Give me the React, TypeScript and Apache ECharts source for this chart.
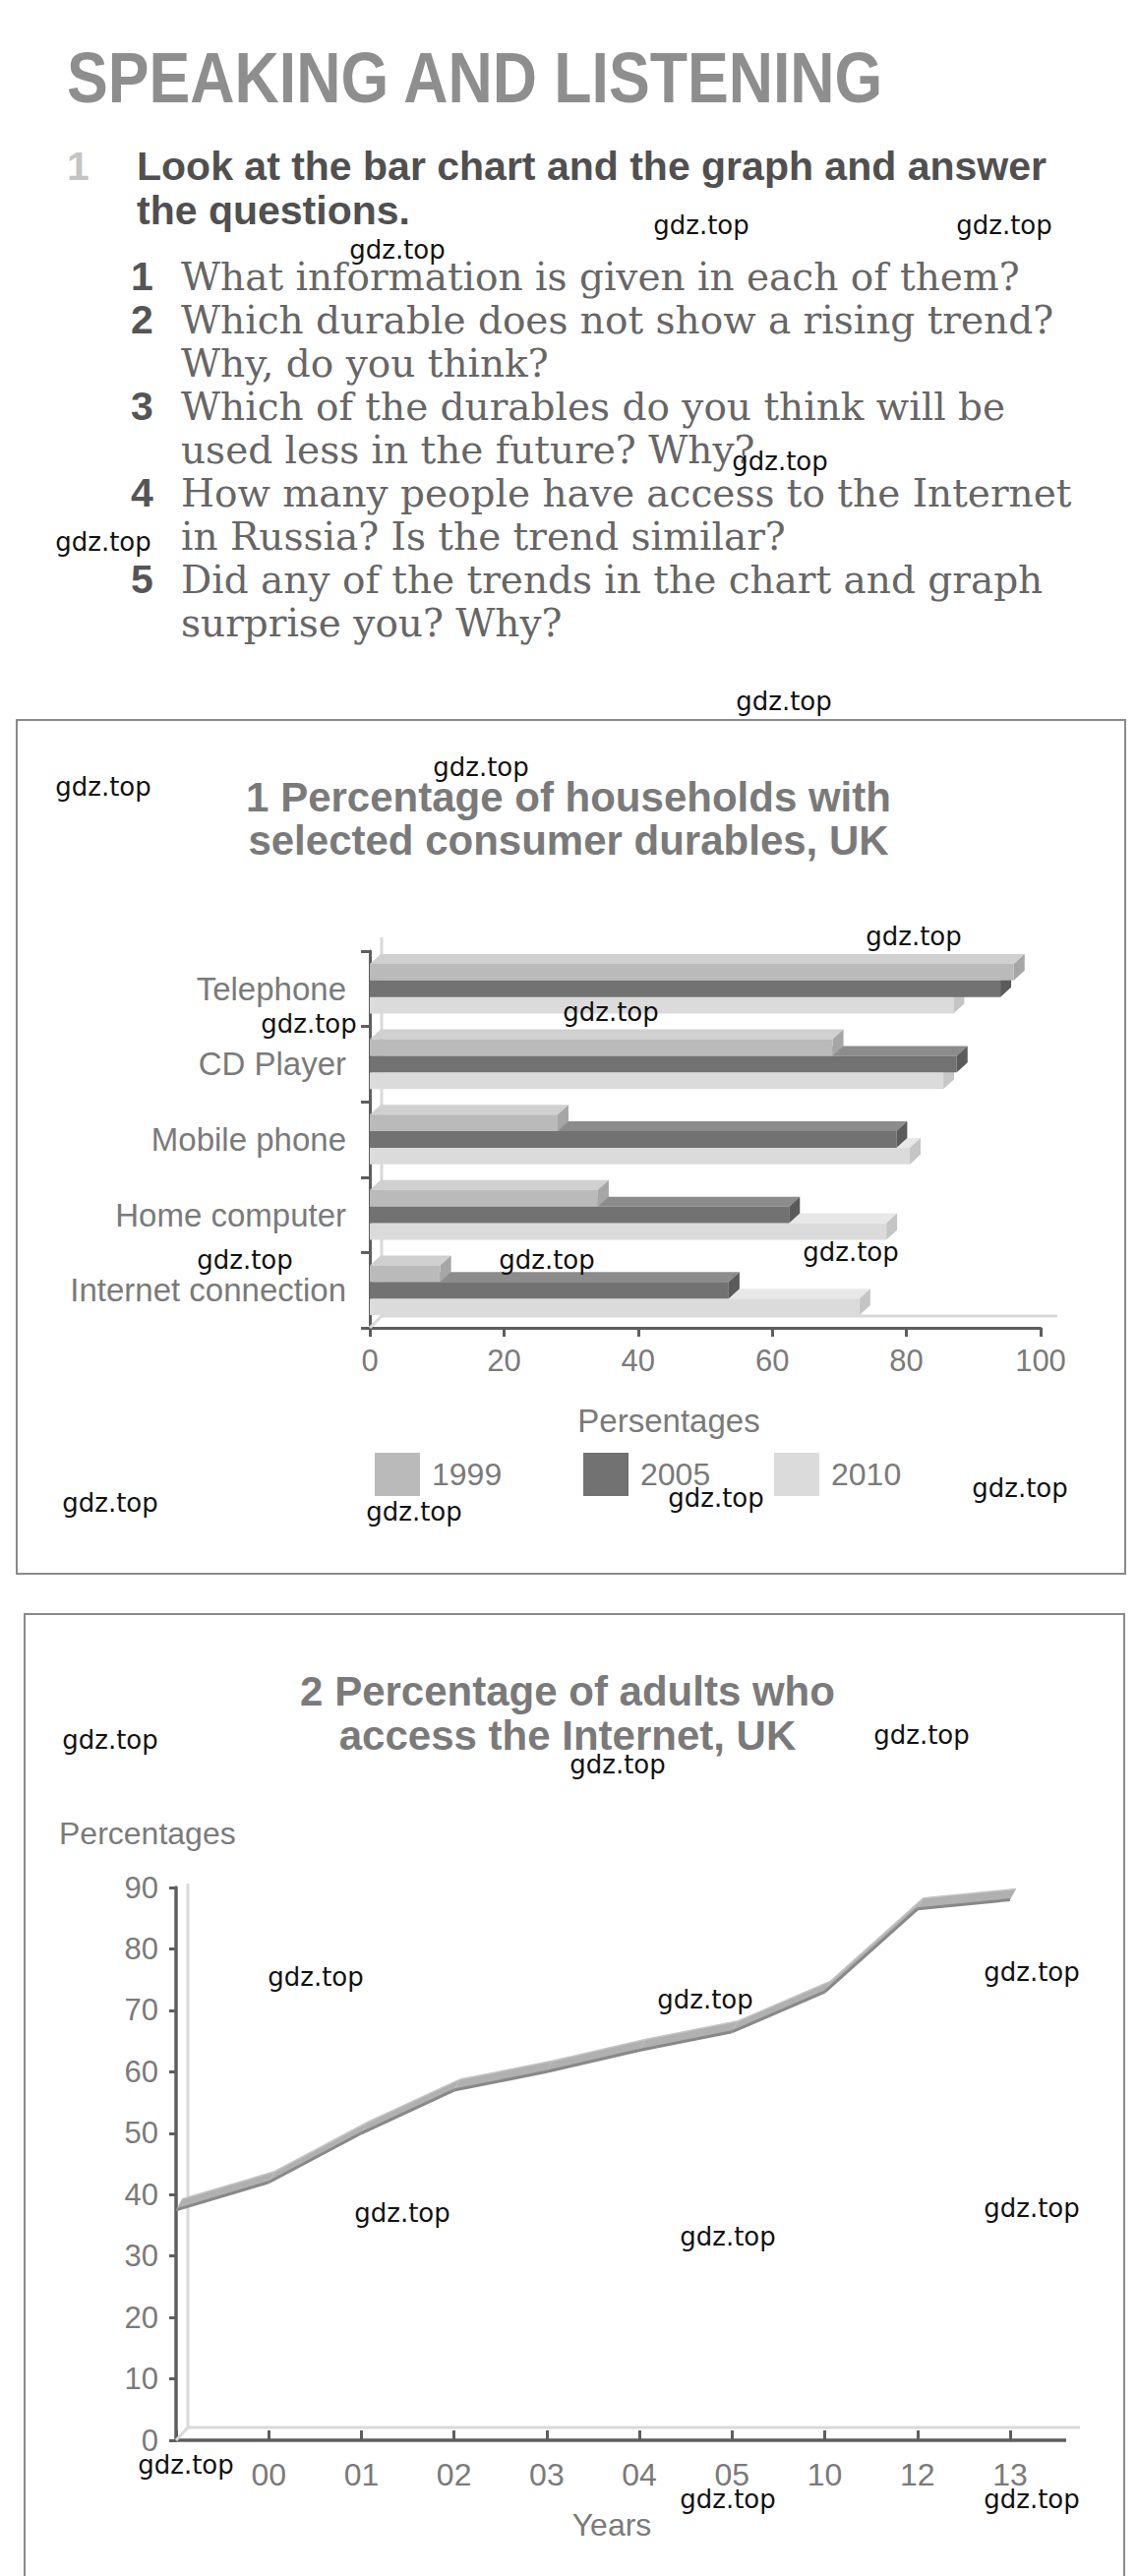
import React, { useEffect, useRef } from 'react';
import * as echarts from 'echarts';

// ---------- data ----------
const pageHeading = 'SPEAKING AND LISTENING';
const exerciseNumber = '1';
const instructionLines = ['Look at the bar chart and the graph and answer', 'the questions.'];
const questionNumbers = ['1', '2', '3', '4', '5'];
const questionLines = [
  ['What information is given in each of them?'],
  ['Which durable does not show a rising trend?', 'Why, do you think?'],
  ['Which of the durables do you think will be', 'used less in the future? Why?'],
  ['How many people have access to the Internet', 'in Russia? Is the trend similar?'],
  ['Did any of the trends in the chart and graph', 'surprise you? Why?'],
];

const barTitle = ['1 Percentage of households with', 'selected consumer durables, UK'];
const durables = ['Telephone', 'CD Player', 'Mobile phone', 'Home computer', 'Internet connection'];
const yearNames = ['1999', '2005', '2010'];
const v1999 = [96, 69, 28, 34, 10.5];
const v2005 = [94, 87.5, 78.5, 62.5, 53.5];
const v2010 = [87, 85.5, 80.5, 77, 73];
const barAxisName = 'Persentages';

const lineTitle = ['2 Percentage of adults who', 'access the Internet, UK'];
const internetYears = ['', '00', '01', '02', '03', '04', '05', '10', '12', '13'];
const internetValues = [37.5, 42, 50, 57, 60, 63.5, 66.5, 73, 86.5, 88];
const lineYName = 'Percentages';
const lineXName = 'Years';

const watermark = 'gdz.top';
const watermarkSpots = [
  [713, 229], [1021, 229], [404, 254], [793, 469], [105, 551], [797, 713],
  [105, 800], [489, 780], [929, 952], [314, 1041], [621, 1029], [249, 1281],
  [556, 1281], [865, 1273], [112, 1528], [421, 1537], [728, 1523], [1037, 1513],
  [112, 1769], [937, 1764], [628, 1794], [321, 2010], [717, 2033], [1049, 2005],
  [409, 2250], [740, 2274], [1049, 2245], [189, 2506], [740, 2541], [1049, 2541],
];

// ---------- styles ----------
const SANS = '"Liberation Sans", Arial, sans-serif';
const SERIF = '"DejaVu Serif", serif';
const LABEL = '#7a7a7a';
const AXIS = '#5e5e5e';
const WALL = '#d9d9d9';

const faces = [
  { front: '#bababa', top: '#d0d0d0', side: '#a6a6a6' },
  { front: '#727272', top: '#8c8c8c', side: '#5b5b5b' },
  { front: '#dbdbdb', top: '#e8e8e8', side: '#c5c5c5' },
];

function bar3D(slot: number) {
  const f = faces[slot];
  return (params: any, api: any) => {
    const val = api.value(0);
    const idx = api.value(1);
    const s = api.coord([0, idx]);
    const e = api.coord([val, idx]);
    const band = api.size([0, 1])[1];
    const h = band * 0.22;
    const top = s[1] - 1.5 * h + slot * h;
    const x0 = s[0];
    const x1 = e[0];
    const dx = 11;
    const dy = 10;
    return {
      type: 'group',
      children: [
        { type: 'polygon', shape: { points: [[x0, top], [x1, top], [x1 + dx, top - dy], [x0 + dx, top - dy]] }, style: { fill: f.top } },
        { type: 'polygon', shape: { points: [[x1, top], [x1 + dx, top - dy], [x1 + dx, top + h - dy], [x1, top + h]] }, style: { fill: f.side } },
        { type: 'rect', shape: { x: x0, y: top, width: x1 - x0, height: h }, style: { fill: f.front } },
      ],
    };
  };
}

function ribbon(params: any, api: any) {
  const i = params.dataIndex;
  if (i >= internetValues.length - 1) return { type: 'group', children: [] };
  const a = api.coord([api.value(0), api.value(1)]);
  const b = api.coord([i + 1, internetValues[i + 1]]);
  const dx = 6;
  const dy = 11;
  return {
    type: 'group',
    children: [
      { type: 'polygon', shape: { points: [a, b, [b[0] + dx, b[1] - dy], [a[0] + dx, a[1] - dy]] }, style: { fill: '#b0b0b0' } },
      { type: 'line', shape: { x1: a[0], y1: a[1], x2: b[0], y2: b[1] }, style: { stroke: '#888888', lineWidth: 3 } },
      { type: 'line', shape: { x1: a[0] + dx, y1: a[1] - dy, x2: b[0] + dx, y2: b[1] - dy }, style: { stroke: '#c4c4c4', lineWidth: 1.5 } },
    ],
  };
}

function txt(text: string, x: number, y: number, size: number, fill: string, opts: any = {}) {
  return {
    type: 'text',
    x,
    y,
    scaleX: opts.scaleX ?? 1,
    z: opts.z ?? 10,
    style: {
      text,
      fill,
      font: `${opts.weight ?? 'normal'} ${size}px ${opts.family ?? SANS}`,
      align: opts.align ?? 'left',
      verticalAlign: 'middle',
    },
  };
}

export default function App() {
  const ref = useRef<HTMLDivElement>(null);

  useEffect(() => {
    if (!ref.current) return;
    const chart = echarts.init(ref.current, null, { renderer: 'svg' });

    const elements: any[] = [];
    // page boxes
    elements.push({ type: 'rect', z: 1, shape: { x: 17, y: 732, width: 1127, height: 868 }, style: { fill: 'none', stroke: '#8a8a8a', lineWidth: 2 } });
    elements.push({ type: 'rect', z: 1, shape: { x: 25, y: 1641, width: 1118, height: 1100 }, style: { fill: 'none', stroke: '#8a8a8a', lineWidth: 2 } });

    // heading
    elements.push(txt(pageHeading, 68, 79, 72, '#8e8e8e', { weight: 'bold', scaleX: 0.87 }));
    elements.push(txt(exerciseNumber, 68, 169, 41, '#c4c4c4', { weight: 'bold' }));
    instructionLines.forEach((l, i) => elements.push(txt(l, 139, 169 + i * 44.5, 41, '#505050', { weight: 'bold' })));
    let line = 0;
    questionLines.forEach((ls, qi) => {
      ls.forEach((l, li) => {
        const y = 281 + line * 44;
        if (li === 0) elements.push(txt(questionNumbers[qi], 133, y, 41, '#555555', { weight: 'bold' }));
        elements.push(txt(l, 184, y, 39, '#666666', { family: SERIF }));
        line++;
      });
    });

    // bar chart texts & decoration
    barTitle.forEach((l, i) => elements.push(txt(l, 578, 810 + i * 44, 42, '#7a7a7a', { weight: 'bold', align: 'center' })));
    elements.push(txt(barAxisName, 680, 1444, 33, LABEL, { align: 'center' }));
    elements.push({ type: 'polyline', z: 2, shape: { points: [[388, 953], [388, 1338], [1075, 1338]] }, style: { fill: 'none', stroke: WALL, lineWidth: 3 } });
    elements.push({ type: 'line', z: 2, shape: { x1: 376, y1: 1350, x2: 388, y2: 1338 }, style: { stroke: WALL, lineWidth: 3 } });

    // line chart texts & decoration
    lineTitle.forEach((l, i) => elements.push(txt(l, 577, 1719 + i * 45, 42, '#7a7a7a', { weight: 'bold', align: 'center' })));
    elements.push(txt(lineYName, 60, 1864, 32, LABEL));
    elements.push(txt(lineXName, 622, 2567, 32, LABEL, { align: 'center' }));
    elements.push({ type: 'polyline', z: 2, shape: { points: [[191, 1915], [191, 2468], [1098, 2468]] }, style: { fill: 'none', stroke: WALL, lineWidth: 3 } });
    elements.push({ type: 'line', z: 2, shape: { x1: 179, y1: 2481, x2: 191, y2: 2468 }, style: { stroke: WALL, lineWidth: 3 } });
    elements.push({ type: 'line', z: 3, shape: { x1: 1027, y1: 2481, x2: 1084, y2: 2481 }, style: { stroke: AXIS, lineWidth: 3.5 } });

    // watermarks
    watermarkSpots.forEach(([x, y]) => elements.push(txt(watermark, x, y, 26, '#111111', { family: '"DejaVu Sans", sans-serif', align: 'center', z: 100 })));

    const legendFor = (name: string, left: number) => ({
      left,
      top: 1472,
      orient: 'horizontal',
      selectedMode: false,
      itemWidth: 46,
      itemHeight: 44,
      data: [{ name, icon: 'rect' }],
      textStyle: { fontSize: 32, color: LABEL, fontFamily: SANS, padding: [0, 0, 0, 7] },
    });

    const option: any = {
      animation: false,
      backgroundColor: '#ffffff',
      grid: [
        { left: 376, top: 967, width: 682, height: 383 },
        { left: 179, top: 1919, width: 848, height: 562 },
      ],
      xAxis: [
        {
          gridIndex: 0, type: 'value', min: 0, max: 100, interval: 20,
          axisLine: { show: true, lineStyle: { color: AXIS, width: 3 } },
          axisTick: { show: true, length: 9, lineStyle: { color: AXIS, width: 3 } },
          axisLabel: { fontSize: 31, color: LABEL, fontFamily: SANS, margin: 18 },
          splitLine: { show: false },
        },
        {
          gridIndex: 1, type: 'category', data: internetYears, boundaryGap: false,
          axisLine: { show: true, lineStyle: { color: AXIS, width: 3.5 } },
          axisTick: { show: true, inside: true, length: 10, interval: 0, lineStyle: { color: AXIS, width: 3 } },
          axisLabel: { fontSize: 32, color: LABEL, fontFamily: SANS, margin: 19, interval: 0 },
          splitLine: { show: false },
        },
      ],
      yAxis: [
        {
          gridIndex: 0, type: 'category', data: durables, inverse: true,
          axisLine: { show: true, lineStyle: { color: AXIS, width: 3 } },
          axisTick: { show: true, length: 9, lineStyle: { color: AXIS, width: 3 } },
          axisLabel: { fontSize: 33, color: LABEL, fontFamily: SANS, margin: 24 },
          splitLine: { show: false },
        },
        {
          gridIndex: 1, type: 'value', min: 0, max: 90, interval: 10,
          axisLine: { show: true, lineStyle: { color: AXIS, width: 3.5 } },
          axisTick: { show: true, length: 7, lineStyle: { color: AXIS, width: 3 } },
          axisLabel: { fontSize: 31, color: LABEL, fontFamily: SANS, margin: 18 },
          splitLine: { show: false },
        },
      ],
      legend: [legendFor(yearNames[0], 376), legendFor(yearNames[1], 588), legendFor(yearNames[2], 782)],
      series: [
        {
          name: yearNames[0], type: 'custom', xAxisIndex: 0, yAxisIndex: 0, z: 4,
          itemStyle: { color: faces[0].front }, encode: { x: 0, y: 1 },
          data: v1999.map((v, i) => [v, i]), renderItem: bar3D(0),
        },
        {
          name: yearNames[1], type: 'custom', xAxisIndex: 0, yAxisIndex: 0, z: 3,
          itemStyle: { color: faces[1].front }, encode: { x: 0, y: 1 },
          data: v2005.map((v, i) => [v, i]), renderItem: bar3D(1),
        },
        {
          name: yearNames[2], type: 'custom', xAxisIndex: 0, yAxisIndex: 0, z: 2,
          itemStyle: { color: faces[2].front }, encode: { x: 0, y: 1 },
          data: v2010.map((v, i) => [v, i]), renderItem: bar3D(2),
        },
        {
          name: 'Internet access', type: 'custom', xAxisIndex: 1, yAxisIndex: 1, z: 4,
          encode: { x: 0, y: 1 },
          data: internetValues.map((v, i) => [i, v]), renderItem: ribbon,
        },
      ],
      graphic: { elements },
    };

    chart.setOption(option);
    return () => chart.dispose();
  }, []);

  return (
    <div
      ref={ref}
      style={{ position: 'absolute', left: 0, top: 0, width: 1156, height: 2619, background: '#ffffff' }}
    />
  );
}
